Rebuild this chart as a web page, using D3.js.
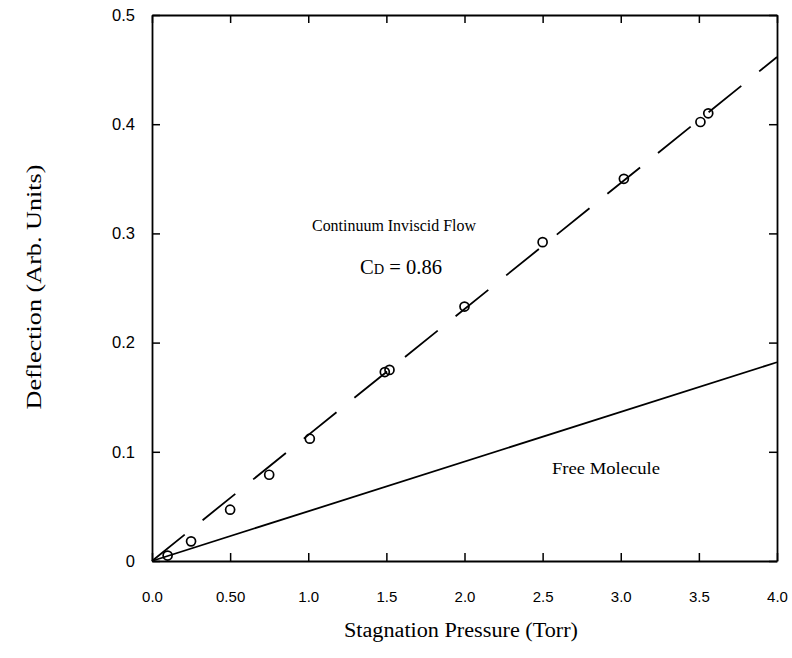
<!DOCTYPE html>
<html>
<head>
<meta charset="utf-8">
<script src="https://cdn.jsdelivr.net/npm/d3@7"></script>
<style>
  body { margin: 0; background: #fff; }
  .tick text { font-family: "Liberation Sans", Arial, sans-serif; fill: #000; }
  .lbl { font-family: "Liberation Serif", "Times New Roman", serif; fill: #000; }
</style>
</head>
<body>
<svg id="chart"></svg>
<script>
var width = 792, height = 658;

// measured points, pressure (Torr) vs deflection
var pressure   = [0.10, 0.25, 0.50, 0.75, 1.01, 1.49, 1.52, 2.00, 2.50, 3.02, 3.51, 3.56];
var deflection = [0.005, 0.018, 0.047, 0.079, 0.112, 0.173, 0.175, 0.233, 0.292, 0.350, 0.402, 0.410];

// model lines (end points)
var continuumLine = [[0, 0], [4.0, 0.4615]];
var freeMolLine   = [[0, 0], [4.0, 0.182]];

var xTicks = [0, 0.5, 1.0, 1.5, 2.0, 2.5, 3.0, 3.5, 4.0];
var xTickLabels = ["0.0", "0.50", "1.0", "1.5", "2.0", "2.5", "3.0", "3.5", "4.0"];
var yTicks = [0, 0.1, 0.2, 0.3, 0.4, 0.5];
var yTickLabels = ["0", "0.1", "0.2", "0.3", "0.4", "0.5"];

var svg = d3.select('#chart')
	.attr('width', width)
	.attr('height', height);

var x = d3.scaleLinear().domain([0, 4]).range([152, 777]);
var y = d3.scaleLinear().domain([0, 0.5]).range([561, 15]);

// axes, ticks pointing inward on all four sides
var bottom = svg.append('g')
	.attr('transform', 'translate(0,' + y(0) + ')')
	.call(d3.axisBottom(x).tickValues(xTicks).tickSizeInner(-8).tickSizeOuter(0).tickPadding(30)
		.tickFormat(function(d, i) { return xTickLabels[i]; }));
bottom.selectAll('text').attr('font-size', 15);

var left = svg.append('g')
	.attr('transform', 'translate(' + x(0) + ',0)')
	.call(d3.axisLeft(y).tickValues(yTicks).tickSizeInner(-8).tickSizeOuter(0).tickPadding(17)
		.tickFormat(function(d, i) { return yTickLabels[i]; }));
left.selectAll('text').attr('font-size', 16.5);

var top = svg.append('g')
	.attr('transform', 'translate(0,' + y(0.5) + ')')
	.call(d3.axisTop(x).tickValues(xTicks).tickSizeInner(-8).tickSizeOuter(0).tickFormat(''));

var right = svg.append('g')
	.attr('transform', 'translate(' + x(4) + ',0)')
	.call(d3.axisRight(y).tickValues(yTicks).tickSizeInner(-8).tickSizeOuter(0).tickFormat(''));

svg.selectAll('.domain').attr('stroke', '#000').attr('stroke-width', 1.8);
svg.selectAll('.tick line').attr('stroke', '#000').attr('stroke-width', 1.5);

var line = d3.line()
	.x(function(d) { return x(d[0]); })
	.y(function(d) { return y(d[1]); });

svg.append('path')
	.datum(continuumLine)
	.attr('d', line)
	.attr('fill', 'none')
	.attr('stroke', '#000')
	.attr('stroke-width', 1.8)
	.attr('stroke-dasharray', '42,23');

svg.append('path')
	.datum(freeMolLine)
	.attr('d', line)
	.attr('fill', 'none')
	.attr('stroke', '#000')
	.attr('stroke-width', 1.8);

svg.selectAll('circle.pt')
	.data(pressure)
	.enter().append('circle')
	.attr('class', 'pt')
	.attr('cx', function(d) { return x(d); })
	.attr('cy', function(d, i) { return y(deflection[i]); })
	.attr('r', 4.5)
	.attr('fill', 'none')
	.attr('stroke', '#000')
	.attr('stroke-width', 1.7);

// annotations (scanned serif text runs wider than Liberation Serif)
svg.append('text').attr('class', 'lbl')
	.attr('x', 394).attr('y', 231)
	.attr('text-anchor', 'middle').attr('font-size', 16.5)
	.attr('textLength', 164).attr('lengthAdjust', 'spacingAndGlyphs')
	.text('Continuum Inviscid Flow');

var cd = svg.append('text').attr('class', 'lbl')
	.attr('x', 401).attr('y', 274)
	.attr('text-anchor', 'middle').attr('font-size', 20)
	.attr('textLength', 82).attr('lengthAdjust', 'spacingAndGlyphs');
cd.append('tspan').text('C');
cd.append('tspan').attr('font-size', 14).text('D');
cd.append('tspan').text(' = 0.86');

svg.append('text').attr('class', 'lbl')
	.attr('x', 606).attr('y', 474)
	.attr('text-anchor', 'middle').attr('font-size', 17)
	.attr('textLength', 108).attr('lengthAdjust', 'spacingAndGlyphs')
	.text('Free Molecule');

svg.append('text').attr('class', 'lbl')
	.attr('x', 461).attr('y', 637)
	.attr('text-anchor', 'middle').attr('font-size', 20)
	.attr('textLength', 234).attr('lengthAdjust', 'spacingAndGlyphs')
	.text('Stagnation Pressure (Torr)');

svg.append('text').attr('class', 'lbl')
	.attr('transform', 'translate(41,287) rotate(-90)')
	.attr('text-anchor', 'middle').attr('font-size', 20)
	.attr('textLength', 245).attr('lengthAdjust', 'spacingAndGlyphs')
	.text('Deflection (Arb. Units)');
</script>
</body>
</html>
